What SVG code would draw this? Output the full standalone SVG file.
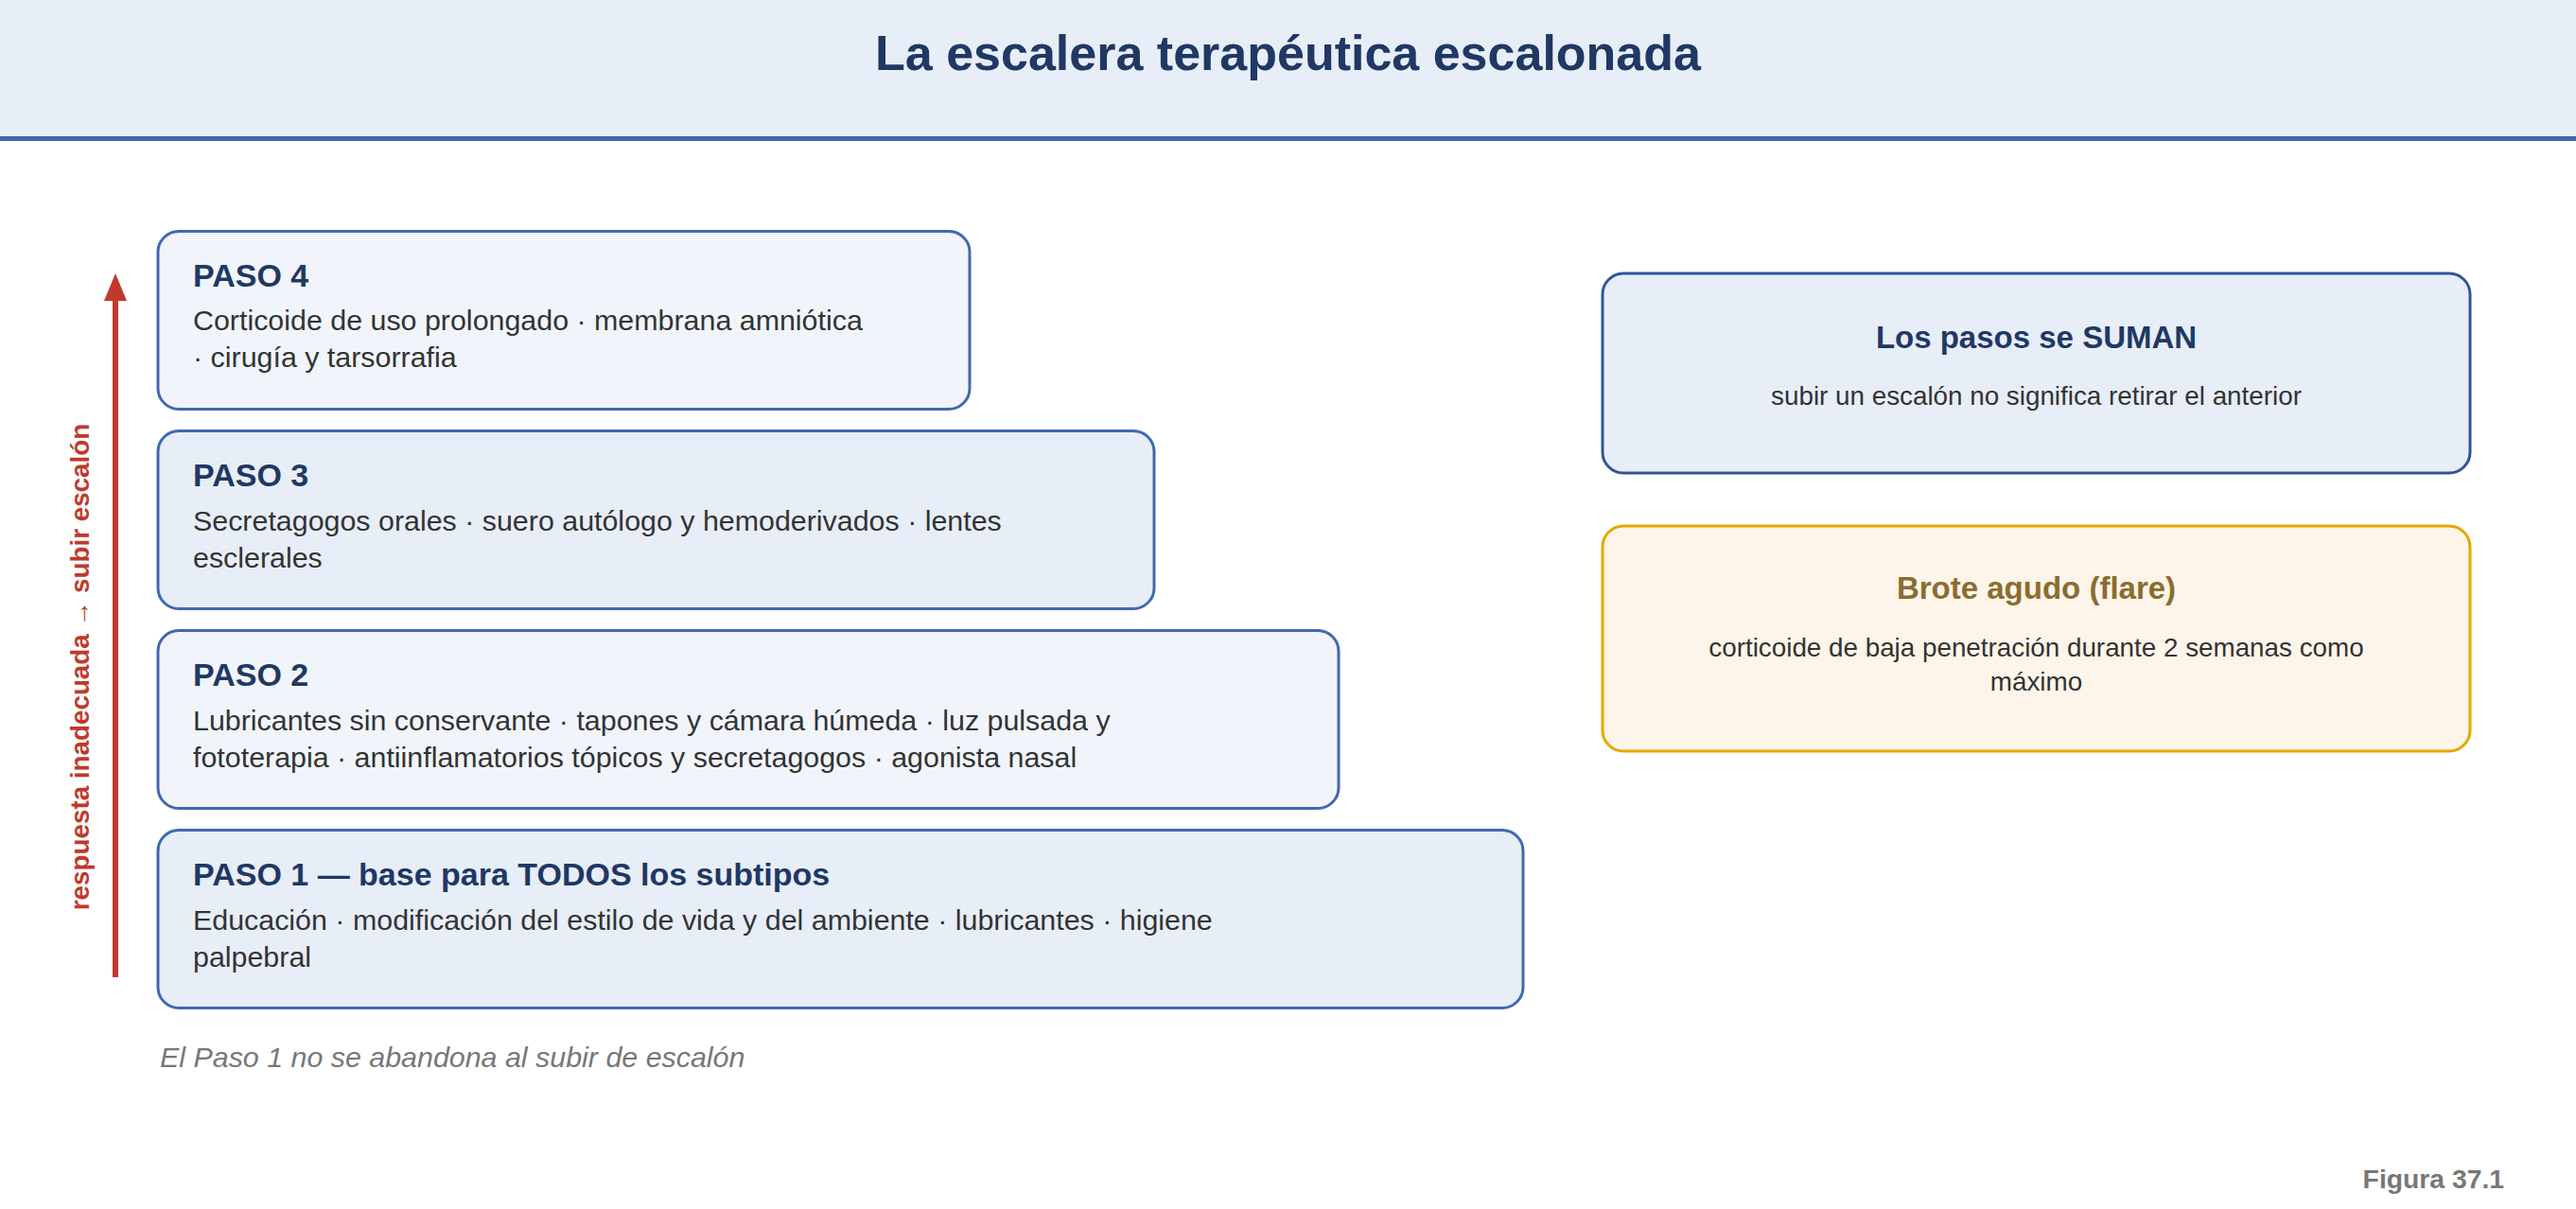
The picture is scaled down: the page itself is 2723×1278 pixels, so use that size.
<svg xmlns="http://www.w3.org/2000/svg" width="2723" height="1278" viewBox="0 0 2723 1278">
<style>
text { font-family: "Liberation Sans", Arial, Helvetica, sans-serif; }
.step { stroke: #4169B0; stroke-width: 3; }
.light { fill: #F1F5FB; }
.mid { fill: #E7EEF8; }
.ttl { font-size: 34px; font-weight: bold; fill: #1F3864; }
.body { font-size: 30.4px; fill: #333333; }
.rttl { font-size: 33px; font-weight: bold; text-anchor: middle; }
.rbody { font-size: 27.8px; fill: #333333; text-anchor: middle; }
</style>
<rect x="0" y="0" width="2723" height="1278" fill="#FFFFFF"/>
<g id="header">
<rect x="0" y="0" width="2723" height="145" fill="#E8EEF8"/>
<rect x="0" y="144" width="2723" height="5" fill="#4169B0"/>
<text x="1361.5" y="74" font-size="52" font-weight="bold" fill="#1F3864" text-anchor="middle">La escalera terapéutica escalonada</text>
</g>
<g id="connectors">
<line x1="122" y1="1033" x2="122" y2="316" stroke="#C0392B" stroke-width="6"/>
<polygon points="110,318 134,318 122,289" fill="#C0392B"/>
</g>
<g id="axis-label">
<text transform="translate(94,705) rotate(-90)" font-size="27.8" font-weight="bold" fill="#C0392B" text-anchor="middle">respuesta inadecuada → subir escalón</text>
</g>
<g id="paso4">
<rect class="step light" x="167" y="244.5" width="858" height="188" rx="22" ry="22"/>
<text class="ttl" x="204" y="303">PASO 4</text>
<text class="body" x="204" y="349">Corticoide de uso prolongado · membrana amniótica</text>
<text class="body" x="204" y="388">· cirugía y tarsorrafia</text>
</g>
<g id="paso3">
<rect class="step mid" x="167" y="455.5" width="1053" height="188" rx="22" ry="22"/>
<text class="ttl" x="204" y="514">PASO 3</text>
<text class="body" x="204" y="560.5">Secretagogos orales · suero autólogo y hemoderivados · lentes</text>
<text class="body" x="204" y="599.5">esclerales</text>
</g>
<g id="paso2">
<rect class="step light" x="167" y="666.5" width="1248" height="188" rx="22" ry="22"/>
<text class="ttl" x="204" y="725">PASO 2</text>
<text class="body" x="204" y="771.5">Lubricantes sin conservante · tapones y cámara húmeda · luz pulsada y</text>
<text class="body" x="204" y="810.5">fototerapia · antiinflamatorios tópicos y secretagogos · agonista nasal</text>
</g>
<g id="paso1">
<rect class="step mid" x="167" y="877.5" width="1443" height="188" rx="22" ry="22"/>
<text class="ttl" x="204" y="936">PASO 1 — base para TODOS los subtipos</text>
<text class="body" x="204" y="983">Educación · modificación del estilo de vida y del ambiente · lubricantes · higiene</text>
<text class="body" x="204" y="1022">palpebral</text>
</g>
<g id="footnote">
<text x="169" y="1128" font-size="30.4" font-style="italic" fill="#777777">El Paso 1 no se abandona al subir de escalón</text>
</g>
<g id="suman">
<rect x="1694" y="289" width="917" height="211" rx="22" ry="22" fill="#E7EEF8" stroke="#2F5597" stroke-width="3"/>
<text class="rttl" x="2152.5" y="367.5" fill="#1F3864">Los pasos se SUMAN</text>
<text class="rbody" x="2152.5" y="427.5">subir un escalón no significa retirar el anterior</text>
</g>
<g id="brote">
<rect x="1694" y="556" width="917" height="238" rx="22" ry="22" fill="#FDF5E9" stroke="#E3A800" stroke-width="3"/>
<text class="rttl" x="2152.5" y="632.5" fill="#8B6C30">Brote agudo (flare)</text>
<text class="rbody" x="2152.5" y="694">corticoide de baja penetración durante 2 semanas como</text>
<text class="rbody" x="2152.5" y="730">máximo</text>
</g>
<g id="figure-label">
<text x="2647" y="1256" font-size="28.3" font-weight="bold" fill="#777777" text-anchor="end">Figura 37.1</text>
</g>
</svg>
